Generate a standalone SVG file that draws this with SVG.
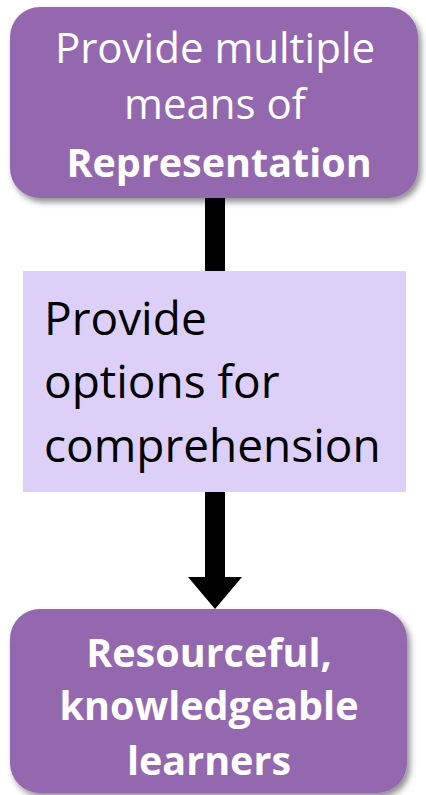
<svg xmlns="http://www.w3.org/2000/svg" width="426" height="795" viewBox="0 0 426 795">
<defs>
<filter id="sh" x="-10%" y="-10%" width="130%" height="130%">
<feDropShadow dx="3" dy="4" stdDeviation="3" flood-color="#000" flood-opacity="0.45"/>
</filter>
</defs>
<style>
.purple{fill:#9467ae;filter:url(#sh)}
.w{fill:#fff;font-family:"Open Sans","Noto Sans",sans-serif;font-size:42px;text-anchor:middle}
.b{font-weight:bold;font-size:39.5px}
.k{fill:#000;font-family:"Open Sans","Noto Sans",sans-serif;font-size:46px}
</style>
<rect width="426" height="795" fill="#fff"/>
<g id="connectors">
<rect x="205" y="196" width="20" height="76" fill="#000"/>
<rect x="205" y="490" width="20" height="88" fill="#000"/>
<polygon points="188,577 242,577 215,609" fill="#000"/>
</g>
<g id="node-representation">
<rect class="purple" x="10" y="7" width="408" height="191" rx="30"/>
<text class="w" x="215" y="63">Provide multiple</text>
<text class="w" x="215" y="119">means of</text>
<text class="w b" x="219" y="177">Representation</text>
</g>
<g id="node-comprehension">
<rect x="23" y="271" width="383" height="221" fill="#ddd0f8"/>
<text class="k" x="44" y="335">Provide</text>
<text class="k" x="44" y="398">options for</text>
<text class="k" x="44" y="462">comprehension</text>
</g>
<g id="node-learners">
<rect class="purple" x="10" y="609" width="397" height="184" rx="30"/>
<text class="w b" x="209" y="667">Resourceful,</text>
<text class="w b" x="209" y="720">knowledgeable</text>
<text class="w b" x="209" y="775">learners</text>
</g>
</svg>
